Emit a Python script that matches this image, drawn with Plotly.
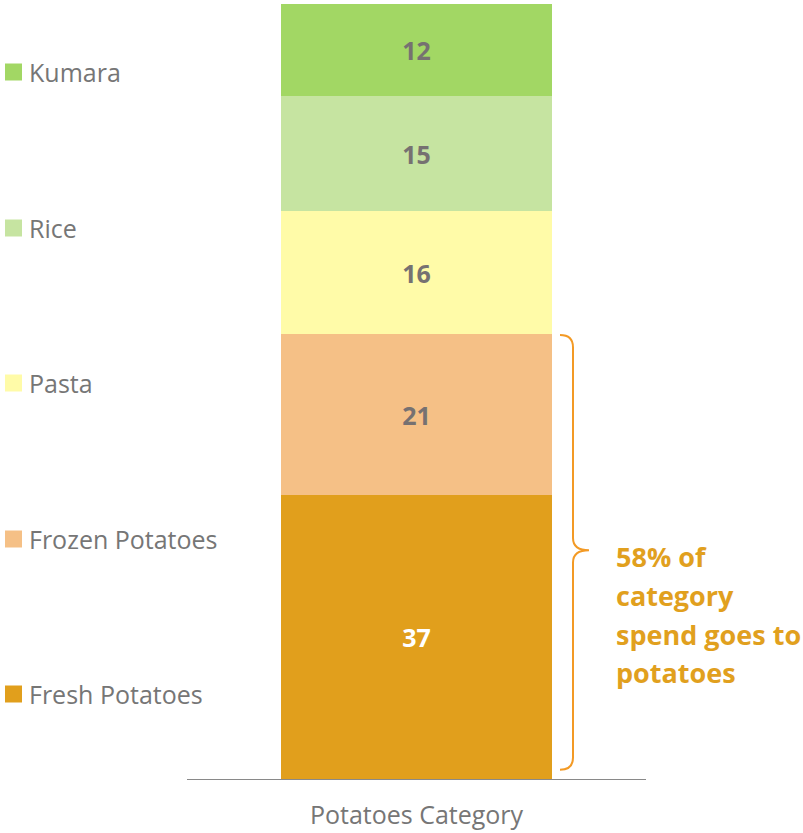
import plotly.graph_objects as go

# Share of category spend (%), stacked bottom to top
segments = ["Fresh Potatoes", "Frozen Potatoes", "Pasta", "Rice", "Kumara"]
values = [37, 21, 16, 15, 12]
colors = ["#E19F1C", "#F5C086", "#FFFBA8", "#C6E4A1", "#A2D764"]
label_colors = ["#FFFFFF", "#767171", "#767171", "#767171", "#767171"]
category = ["Potatoes Category"]
callout_lines = ["58% of", "category", "spend goes to", "potatoes"]

FONT = "Open Sans"
GRAY = "#767676"

# plot-area pixel frame (used to place layout furniture in paper coords)
PX_L, PX_R, PX_T, PX_B = 187, 646, 4, 779


def px_x(px):
    return (px - PX_L) / (PX_R - PX_L)


def px_y(py):
    return 1 - (py - PX_T) / (PX_B - PX_T)


fig = go.Figure()
for name, v, c, tc in zip(segments, values, colors, label_colors):
    fig.add_trace(go.Bar(
        x=category, y=[v], name=name,
        marker=dict(color=c, line=dict(width=0)),
        width=0.59,
        text=[str(v)], textposition="inside", insidetextanchor="middle",
        textangle=0,
        textfont=dict(family=FONT, size=25, color=tc, weight="bold"),
        showlegend=False,
    ))

total = sum(values)

# Legend on the left: square swatch + label, top item = top segment
legend_y = [694, 539, 383, 228, 72]  # pixel centres, Fresh -> Kumara
for name, c, py in zip(segments, colors, legend_y):
    yc = px_y(py)
    half = 8.5 / (PX_B - PX_T)
    fig.add_shape(type="rect", xref="paper", yref="paper",
                  x0=px_x(5), x1=px_x(22), y0=yc - half, y1=yc + half,
                  fillcolor=c, line=dict(width=0))
    fig.add_annotation(xref="paper", yref="paper",
                       x=px_x(27), y=yc, xanchor="left", yanchor="middle",
                       text=name, showarrow=False,
                       font=dict(family=FONT, size=25, color=GRAY))

# Curly brace spanning the two potato segments
pot_top = values[0] + values[1]
xv, xe, xt = px_x(573), px_x(560), px_x(589)
ytop = pot_top - 0.15
ybot = 1.2
ymid = 29.8
r = 1.6
path = (f"M {xe},{ytop} Q {xv},{ytop} {xv},{ytop - r} "
        f"L {xv},{ymid + r} Q {xv},{ymid} {xt},{ymid} "
        f"Q {xv},{ymid} {xv},{ymid - r} "
        f"L {xv},{ybot + r} Q {xv},{ybot} {xe},{ybot}")
fig.add_shape(type="path", xref="paper", yref="y", path=path,
              line=dict(color="#F39A25", width=2))

# Callout text, one annotation per line for Office-style line spacing
for line, py in zip(callout_lines, [556, 595, 634, 672]):
    fig.add_annotation(xref="paper", yref="paper",
                       x=px_x(614), y=px_y(py),
                       xanchor="left", yanchor="middle", align="left",
                       text=line, showarrow=False,
                       font=dict(family=FONT, size=27, color="#E1A01E", weight="bold"))

fig.update_layout(
    barmode="stack",
    width=803, height=833,
    margin=dict(l=PX_L, r=803 - PX_R, t=PX_T, b=833 - PX_B),
    paper_bgcolor="white", plot_bgcolor="white",
    font=dict(family=FONT, color=GRAY),
    xaxis=dict(range=[-0.5, 0.5], showline=True, linecolor="#898989", linewidth=1,
               ticks="", showgrid=False, zeroline=False, ticklabelstandoff=14,
               automargin=False,
               tickfont=dict(family=FONT, size=25, color=GRAY)),
    yaxis=dict(range=[0, total], visible=False, showgrid=False, zeroline=False),
)

fig.write_html("out.html")
